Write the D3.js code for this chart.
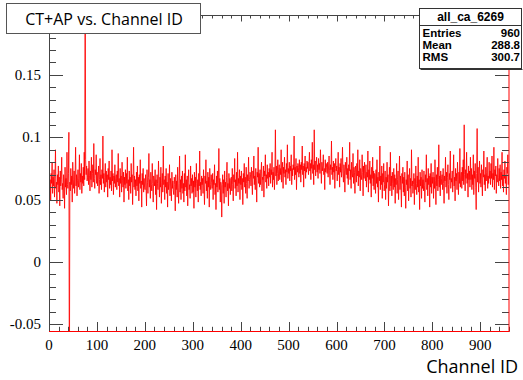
<!DOCTYPE html>
<html>
<head>
<meta charset="utf-8">
<script src="https://cdn.jsdelivr.net/npm/d3@7/dist/d3.min.js"></script>
<style>
  body { margin: 0; background: #fff; }
  svg { display: block; }
</style>
</head>
<body>
<div id="chart"></div>
<script>
// bin contents of all_ca_6269, in units of 1e-3 (960 channels)
var binMilli = [
  72,58,66,49,71,63,80,55,68,61,74,52,67,90,59,64,47,70,62,77,
  56,68,45,73,61,66,84,58,63,51,70,65,43,76,60,67,54,88,62,59,
  71,104,-120,64,57,75,62,69,48,80,66,59,73,55,68,92,61,70,53,65,
  74,60,67,86,58,71,64,79,55,69,63,76,61,88,66,260,82,70,77,65,
  68,75,62,81,69,57,73,66,84,60,71,78,64,95,67,59,74,70,86,63,
  72,61,69,77,55,66,83,62,70,58,74,67,101,63,71,56,68,79,60,73,
  64,70,52,75,66,81,59,68,62,73,57,90,65,71,54,69,63,78,60,67,
  70,58,73,64,87,61,67,52,75,63,69,56,80,65,60,72,48,68,62,74,
  59,71,63,84,57,66,50,73,61,68,55,79,64,70,46,67,92,60,69,58,
  66,53,72,61,77,57,68,49,70,63,82,59,65,44,71,62,75,56,67,60,
  58,70,61,45,74,64,55,68,87,60,66,51,72,62,57,79,63,48,69,65,
  61,74,54,66,42,70,63,58,81,65,52,68,60,76,47,64,71,56,93,62,
  66,50,69,60,75,55,64,44,71,58,63,78,53,67,61,49,72,59,65,57,
  54,68,62,41,70,58,65,52,76,60,47,63,85,56,66,50,69,59,73,55,
  63,48,71,57,86,60,66,53,69,45,64,74,58,62,51,77,61,67,55,70,
  56,65,43,72,60,68,52,79,63,57,66,48,71,61,89,58,64,53,69,62,
  67,55,74,61,46,69,63,82,57,65,51,72,60,68,44,75,62,58,70,64,
  59,71,50,66,62,78,54,63,42,69,60,73,56,65,91,58,67,48,64,61,
  36,62,70,55,66,47,73,60,64,52,68,80,57,63,45,71,59,67,54,65,
  68,57,75,62,49,70,64,83,59,66,53,72,61,88,56,67,63,74,50,69,
  62,73,58,67,46,71,64,79,60,68,55,76,63,51,70,65,84,59,66,72,
  70,61,76,64,54,73,67,85,62,69,58,75,65,48,72,68,92,63,71,60,
  74,62,71,80,57,68,66,77,52,73,69,86,64,70,59,78,67,72,61,75,
  68,79,63,74,70,88,60,72,66,76,58,73,106,69,77,62,71,82,65,74,
  78,66,75,70,90,64,73,80,59,76,71,84,68,74,62,79,72,94,67,75,
  71,80,65,77,73,86,62,75,69,78,74,101,66,76,70,83,58,77,72,79,
  76,68,82,71,78,64,80,74,93,70,77,60,79,73,85,67,76,72,81,75,
  80,70,77,88,73,79,66,82,75,96,71,78,62,106,74,81,69,77,84,72,
  78,67,83,74,79,71,90,76,63,80,73,77,86,70,75,58,82,72,79,76,
  71,80,68,77,85,73,62,78,74,97,70,76,66,81,72,79,59,75,83,73,
  77,65,74,88,70,76,60,79,72,83,68,75,92,71,64,78,73,56,80,74,
  70,84,67,75,62,78,73,96,66,74,59,80,71,68,87,63,76,72,55,77,
  74,64,79,69,90,61,73,68,82,57,75,70,66,86,72,53,77,67,80,71,
  65,78,60,72,68,89,56,74,66,81,63,70,52,76,67,84,61,73,58,71,
  70,55,74,63,82,60,68,48,72,65,93,58,69,62,77,51,71,64,79,57,
  62,73,50,68,59,80,64,70,45,66,76,57,88,61,69,53,72,63,58,75,
  60,70,47,67,62,79,55,66,73,50,64,85,58,69,61,44,71,63,76,56,
  68,53,72,60,43,66,62,81,57,70,49,64,75,59,67,52,90,61,65,55,
  62,71,46,67,58,77,63,54,69,60,84,56,66,42,72,61,68,51,74,59,
  66,57,73,61,48,70,64,86,58,67,53,75,62,69,44,71,60,79,55,68,
  63,72,51,68,59,82,65,46,70,61,76,57,66,94,60,69,53,73,62,67,
  70,58,75,63,47,69,65,84,60,72,55,68,78,62,50,71,66,89,59,67,
  64,73,56,70,86,61,68,49,75,65,71,58,80,66,54,72,63,91,60,69,
  72,59,76,65,82,62,110,70,57,74,67,88,63,71,52,77,66,73,60,84,
  66,75,58,70,62,86,54,73,67,79,60,42,71,107,64,76,56,69,81,63,
  71,60,78,66,53,74,68,89,62,70,57,76,65,72,84,59,69,63,80,67,
  73,62,79,67,85,60,71,66,92,58,74,69,77,55,70,64,83,68,61,75,
  65,78,59,72,66,88,61,70,56,74,67,81,63,69,54,76,71,86,62,70
];

var xTickLabels = [0, 100, 200, 300, 400, 500, 600, 700, 800, 900];
var yTickLabels = [-0.05, 0, 0.05, 0.1, 0.15];
var statsTitle = "all_ca_6269";
var statsNames = ["Entries", "Mean", "RMS"];
var statsValues = ["960", "288.8", "300.7"];
var plotTitle = "CT+AP vs. Channel ID";
var xTitle = "Channel ID";

var W = 523, H = 380;
// frame edges (note: "top" clashes with window.top, so use other names)
var fx0 = 49, fx1 = 509, fy0 = 15.5, fy1 = 331.5;

var svg = d3.select("#chart").append("svg")
    .attr("width", W)
    .attr("height", H);

var x = d3.scaleLinear().domain([0, 960]).range([fx0, fx1]);
var y = d3.scaleLinear().domain([-0.0558, 0.1977]).range([fy1, fy0]);

svg.append("defs").append("clipPath").attr("id", "frame")
  .append("rect")
    .attr("x", fx0).attr("y", fy0)
    .attr("width", fx1 - fx0).attr("height", fy1 - fy0);

// histogram line
var line = d3.line()
    .x(function(d, i) { return x(i + 0.5); })
    .y(function(d) { return y(d / 1000); });

svg.append("path")
    .datum(binMilli)
    .attr("clip-path", "url(#frame)")
    .attr("d", line)
    .attr("fill", "none")
    .attr("stroke", "#ff0000")
    .attr("stroke-width", 0.85);

// ticks (ROOT style, pointing inward on all four sides)
var axisCol = "#444";
var g = svg.append("g").attr("stroke", axisCol).attr("stroke-width", 1);

d3.range(-5, 20).forEach(function(k) {
  var v = k / 100;
  var isMajor = k % 5 === 0;
  var len = isMajor ? 14 : 7;
  var yy = Math.round(y(v)) + 0.5;
  g.append("line").attr("x1", fx0).attr("x2", fx0 + len).attr("y1", yy).attr("y2", yy);
  g.append("line").attr("x1", fx1).attr("x2", fx1 - len).attr("y1", yy).attr("y2", yy);
});

d3.range(0, 961, 20).forEach(function(v) {
  var isMajor = v % 100 === 0;
  var xx = Math.round(x(v)) + 0.5;
  g.append("line").attr("x1", xx).attr("x2", xx).attr("y1", fy1).attr("y2", fy1 - (isMajor ? 9.5 : 4.7));
  g.append("line").attr("x1", xx).attr("x2", xx).attr("y1", fy0).attr("y2", fy0 + (isMajor ? 6 : 3));
});

// frame: left/top dark, bottom/right red as in the original
svg.append("line").attr("x1", fx0 + 0.5).attr("x2", fx0 + 0.5).attr("y1", fy0).attr("y2", fy1)
    .attr("stroke", axisCol);
svg.append("line").attr("x1", fx0).attr("x2", fx1).attr("y1", fy0).attr("y2", fy0)
    .attr("stroke", axisCol);
svg.append("line").attr("x1", fx0).attr("x2", fx1 + 0.5).attr("y1", fy1).attr("y2", fy1)
    .attr("stroke", "#ff0000");
svg.append("line").attr("x1", fx1).attr("x2", fx1).attr("y1", fy0).attr("y2", fy1)
    .attr("stroke", "#ff0000");

// tick labels
svg.selectAll(".ylab").data(yTickLabels).join("text")
    .attr("class", "ylab")
    .attr("x", 41)
    .attr("y", function(d) { return y(d) + 5; })
    .attr("text-anchor", "end")
    .style("font-family", "'Liberation Serif', 'DejaVu Serif', serif")
    .style("font-size", "15px")
    .text(function(d) { return d; });

svg.selectAll(".xlab").data(xTickLabels).join("text")
    .attr("class", "xlab")
    .attr("x", function(d) { return x(d); })
    .attr("y", 350)
    .attr("text-anchor", "middle")
    .style("font-family", "'Liberation Serif', 'DejaVu Serif', serif")
    .style("font-size", "15px")
    .text(function(d) { return d; });

svg.append("text")
    .attr("x", 518)
    .attr("y", 373)
    .attr("text-anchor", "end")
    .style("font-family", "'Open Sans', sans-serif")
    .style("font-size", "18px")
    .text(xTitle);

// title box
svg.append("rect")
    .attr("x", 6.5).attr("y", 3.5).attr("width", 194).attr("height", 30)
    .attr("fill", "#fff").attr("stroke", "#555");
svg.append("text")
    .attr("x", 104)
    .attr("y", 24.5)
    .attr("text-anchor", "middle")
    .style("font-family", "'Open Sans', sans-serif")
    .style("font-size", "16px")
    .text(plotTitle);

// stats box
var sx = 419.5, sy = 8.5, sw = 102, sh = 60;
svg.append("rect")
    .attr("x", sx).attr("y", sy).attr("width", sw).attr("height", sh)
    .attr("fill", "#fff").attr("stroke", "#333");
svg.append("line")
    .attr("x1", sx + 1).attr("x2", sx + sw + 1).attr("y1", sy + sh + 1).attr("y2", sy + sh + 1)
    .attr("stroke", "#333");
svg.append("line")
    .attr("x1", sx).attr("x2", sx + sw).attr("y1", 25.5).attr("y2", 25.5)
    .attr("stroke", "#333");
svg.append("text")
    .attr("x", sx + sw / 2).attr("y", 21)
    .attr("text-anchor", "middle")
    .style("font-family", "'Liberation Sans', Arial, sans-serif")
    .style("font-weight", "bold")
    .style("font-size", "12px")
    .text(statsTitle);

statsNames.forEach(function(name, i) {
  var by = 37 + i * 11.8;
  svg.append("text")
      .attr("x", sx + 3).attr("y", by)
      .style("font-family", "'Liberation Sans', Arial, sans-serif")
      .style("font-weight", "bold")
      .style("font-size", "11.5px")
      .text(name);
  svg.append("text")
      .attr("x", sx + sw - 1.5).attr("y", by)
      .attr("text-anchor", "end")
      .style("font-family", "'Liberation Sans', Arial, sans-serif")
      .style("font-weight", "bold")
      .style("font-size", "11.5px")
      .text(statsValues[i]);
});
</script>
</body>
</html>
